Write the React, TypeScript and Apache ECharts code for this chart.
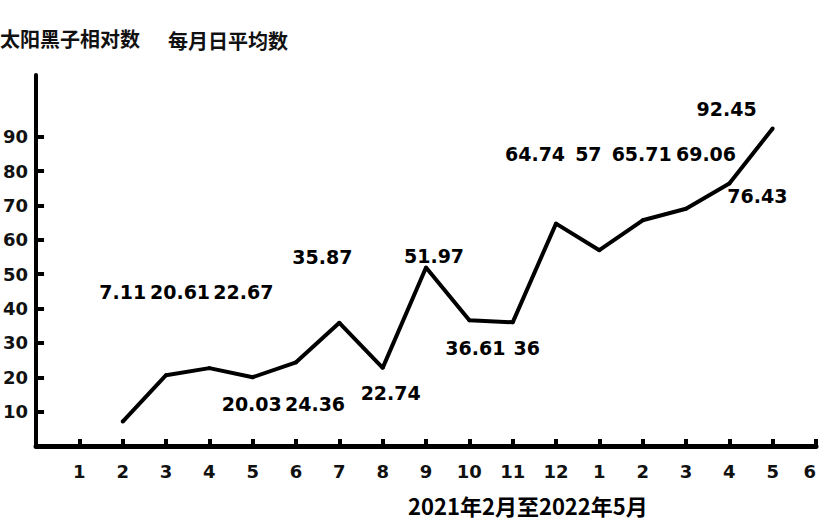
import React, { useEffect, useRef } from 'react';
import * as echarts from 'echarts';

// months shown on the x axis, Jan 2021 .. Jun 2022
const monthLabels = ['1', '2', '3', '4', '5', '6', '7', '8', '9', '10', '11', '12', '1', '2', '3', '4', '5', '6'];
// monthly mean sunspot number, Feb 2021 .. May 2022
const sunspotValues = [7.11, 20.61, 22.67, 20.03, 24.36, 35.87, 22.74, 51.97, 36.61, 36, 64.74, 57, 65.71, 69.06, 76.43, 92.45];
const yTickValues = [10, 20, 30, 40, 50, 60, 70, 80, 90];

// where each value label sits relative to its point (px)
const labelOffsets: [number, number][] = [
  [0, -130], [14, -83], [34, -76], [-1, 27], [19, 42], [-17, -66], [8, 25], [8, -11],
  [6, 28], [14, 26], [-21, -70], [-11, -96], [-1, -66], [20, -55], [28, 13], [-46, -19],
];

const FONT = '"DejaVu Sans", Verdana, sans-serif';
const CJK = '"Noto Sans CJK SC", sans-serif';

const App: React.FC = () => {
  const chartRef = useRef<HTMLDivElement>(null);

  useEffect(() => {
    const myChart = echarts.init(chartRef.current!, null, { renderer: 'svg' });

    const categories = ['', ...monthLabels];
    const seriesData: any[] = ['-', '-'];
    sunspotValues.forEach((v, i) => {
      seriesData.push({
        value: v,
        label: { offset: labelOffsets[i] },
      });
    });
    seriesData.push('-');

    const option = {
      animation: false,
      backgroundColor: '#fff',
      title: [
        { text: '太阳黑子相对数', left: 0, top: 28, padding: 0, textStyle: { fontFamily: CJK, fontSize: 20, fontWeight: 'bold', color: '#111' } },
        { text: '每月日平均数', left: 168, top: 30, padding: 0, textStyle: { fontFamily: CJK, fontSize: 20, fontWeight: 'bold', color: '#111' } },
        { text: '2021年2月至2022年5月', left: 408, top: 494, padding: 0, textStyle: { fontFamily: CJK, fontSize: 22, fontWeight: 'bold', color: '#000' } },
      ],
      grid: {
        left: 34,
        right: 0,
        top: 75,
        bottom: 74,
      },
      xAxis: {
        type: 'category',
        boundaryGap: false,
        data: categories,
        axisLine: { lineStyle: { color: '#000', width: 5 } },
        axisTick: { inside: true, length: 7, interval: 0, lineStyle: { color: '#000', width: 4 } },
        axisLabel: {
          interval: 0,
          margin: 16,
          fontFamily: FONT,
          fontSize: 18,
          fontWeight: 'bold',
          color: '#111',
          alignMaxLabel: 'right',
        },
      },
      yAxis: {
        type: 'value',
        min: 0,
        max: 108,
        splitLine: { show: false },
        axisLine: { show: true, lineStyle: { color: '#000', width: 4 } },
        axisTick: { show: true, inside: true, length: 8, customValues: yTickValues, lineStyle: { color: '#000', width: 4 } },
        axisLabel: {
          customValues: yTickValues,
          margin: 8,
          fontFamily: FONT,
          fontSize: 18,
          fontWeight: 'bold',
          color: '#111',
        },
      },
      series: [
        {
          type: 'line',
          data: seriesData,
          symbol: 'circle',
          symbolSize: 4,
          itemStyle: { color: '#000' },
          lineStyle: { color: '#000', width: 4 },
          label: {
            show: true,
            position: 'inside',
            fontFamily: FONT,
            fontSize: 19,
            fontWeight: 'bold',
            color: '#000',
          },
        },
      ],
    };

    myChart.setOption(option);

    return () => {
      myChart.dispose();
    };
  }, []);

  return <div ref={chartRef} style={{ position: 'fixed', left: 0, top: 0, width: '819px', height: '520px' }} />;
};

export default App;
